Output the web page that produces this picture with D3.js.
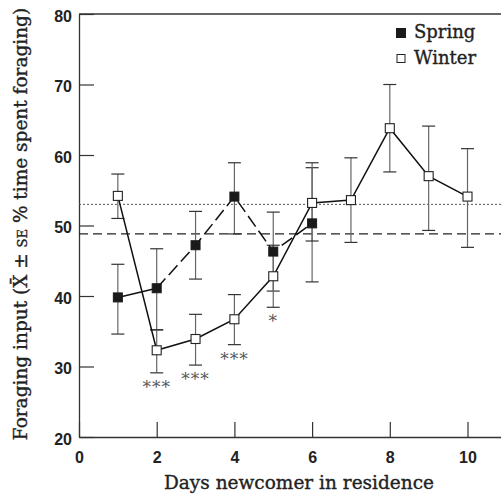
<!DOCTYPE html>
<html>
<head>
<meta charset="utf-8">
<script src="https://cdn.jsdelivr.net/npm/d3@7"></script>
<style>
  body { margin: 0; background: #fff; }
  svg { display: block; font-family: 'DejaVu Serif', serif; }
  .tick text { font-size: 16px; font-weight: bold; fill: #222; }
  .title { fill: #222; stroke: #222; stroke-width: 0.35px; }
</style>
</head>
<body>
<svg id="chart"></svg>
<script>
// ---- data ----
var springDays = [1, 2, 3, 4, 5, 6];
var springMean = [39.8, 41.1, 47.2, 54.1, 46.3, 50.3];
var springLow  = [34.6, 35.2, 42.4, 48.8, 40.7, 42.0];
var springHigh = [44.5, 46.7, 52.0, 58.9, 51.9, 58.2];

var winterDays = [1, 2, 3, 4, 5, 6, 7, 8, 9, 10];
var winterMean = [54.2, 32.3, 33.9, 36.7, 42.8, 53.2, 53.6, 63.8, 57.0, 54.1];
var winterLow  = [51.0, 29.1, 30.2, 33.1, 38.4, 47.8, 47.6, 57.6, 49.3, 46.9];
var winterHigh = [57.3, 35.2, 37.4, 40.2, 47.2, 58.9, 59.6, 70.0, 64.1, 60.9];

// significance marks under the winter points
var sigDays  = [2, 3, 4, 5];
var sigMarks = ["***", "***", "***", "*"];

// reference levels (dotted = winter baseline, dashed = spring baseline)
var winterRef = 53.0;
var springRef = 48.8;

var xTicks = [0, 2, 4, 6, 8, 10];
var yTicks = [20, 30, 40, 50, 60, 70, 80];

/* ~~~~~~~~~ SVG setup ~~~~~~~~~ */
var svgWidth = 501, svgHeight = 499;
var svg = d3.select("#chart").attr("width", svgWidth).attr("height", svgHeight);

var x = d3.scaleLinear().domain([0, 11]).range([79, 79 + 11 * 38.85]);
var y = d3.scaleLinear().domain([20, 80]).range([437, 14]);

var axisColor = "#333";

// frame: top line (the right side falls off the picture)
svg.append("line")
   .attr("x1", x(0)).attr("x2", x(11))
   .attr("y1", y(80)).attr("y2", y(80))
   .attr("stroke", axisColor).attr("stroke-width", 1.3);

// x axis, ticks pointing inward
svg.append("g")
   .attr("transform", "translate(0," + y(20) + ")")
   .call(d3.axisBottom(x).tickValues(xTicks).tickSizeInner(-15).tickSizeOuter(0).tickPadding(10))
   .call(g => g.select(".domain").attr("stroke", axisColor).attr("stroke-width", 1.3))
   .call(g => g.selectAll(".tick line").attr("stroke", axisColor).attr("stroke-width", 1.2))
   .call(g => g.selectAll(".tick text").attr("y", 26).attr("dy", 0));

// y axis, ticks pointing inward
svg.append("g")
   .attr("transform", "translate(" + x(0) + ",0)")
   .call(d3.axisLeft(y).tickValues(yTicks).tickSizeInner(-15).tickSizeOuter(0).tickPadding(7))
   .call(g => g.select(".domain").attr("stroke", axisColor).attr("stroke-width", 1.3))
   .call(g => g.selectAll(".tick line").attr("stroke", axisColor).attr("stroke-width", 1.2))
   .call(g => g.selectAll(".tick text").attr("dy", "0.45em"));

/* ~~~~~~~~~ reference lines ~~~~~~~~~ */
svg.append("line")
   .attr("x1", x(0)).attr("x2", x(11))
   .attr("y1", y(winterRef)).attr("y2", y(winterRef))
   .attr("stroke", "#555").attr("stroke-width", 1)
   .attr("stroke-dasharray", "2,2");

svg.append("line")
   .attr("x1", x(0)).attr("x2", x(11))
   .attr("y1", y(springRef)).attr("y2", y(springRef))
   .attr("stroke", "#222").attr("stroke-width", 1.2)
   .attr("stroke-dasharray", "9,5");

/* ~~~~~~~~~ error bars ~~~~~~~~~ */
var capHalf = 6.5;
function errorBars(days, low, high) {
   var g = svg.append("g");
   days.forEach(function(d, i) {
      g.append("line")
         .attr("x1", x(d)).attr("x2", x(d))
         .attr("y1", y(low[i])).attr("y2", y(high[i]))
         .attr("stroke", "#666").attr("stroke-width", 1.2);
      [low[i], high[i]].forEach(function(v) {
         g.append("line")
            .attr("x1", x(d) - capHalf).attr("x2", x(d) + capHalf)
            .attr("y1", y(v)).attr("y2", y(v))
            .attr("stroke", "#333").attr("stroke-width", 1.2);
      });
   });
}
errorBars(springDays, springLow, springHigh);
errorBars(winterDays, winterLow, winterHigh);

/* ~~~~~~~~~ series lines ~~~~~~~~~ */
var line = d3.line().x(function(d){ return x(d[0]); }).y(function(d){ return y(d[1]); });

var springPts = springDays.map(function(d, i){ return [d, springMean[i]]; });
var winterPts = winterDays.map(function(d, i){ return [d, winterMean[i]]; });

// spring: first segment solid, the rest long dashes
svg.append("path").datum(springPts.slice(0, 2))
   .attr("d", line).attr("fill", "none")
   .attr("stroke", "#111").attr("stroke-width", 1.5);
svg.append("path").datum(springPts.slice(1))
   .attr("d", line).attr("fill", "none")
   .attr("stroke", "#111").attr("stroke-width", 1.5)
   .attr("stroke-dasharray", "13,5");

svg.append("path").datum(winterPts)
   .attr("d", line).attr("fill", "none")
   .attr("stroke", "#111").attr("stroke-width", 1.5);

/* ~~~~~~~~~ markers ~~~~~~~~~ */
var sq = 9;
svg.append("g").selectAll("rect")
   .data(springPts).enter().append("rect")
   .attr("x", function(d){ return x(d[0]) - sq/2; })
   .attr("y", function(d){ return y(d[1]) - sq/2; })
   .attr("width", sq).attr("height", sq)
   .attr("fill", "#1a1a1a").attr("stroke", "#1a1a1a").attr("stroke-width", 1);

svg.append("g").selectAll("rect")
   .data(winterPts).enter().append("rect")
   .attr("x", function(d){ return x(d[0]) - sq/2; })
   .attr("y", function(d){ return y(d[1]) - sq/2; })
   .attr("width", sq).attr("height", sq)
   .attr("fill", "#fff").attr("stroke", "#222").attr("stroke-width", 1.1);

/* ~~~~~~~~~ significance asterisks ~~~~~~~~~ */
svg.append("g").selectAll("text")
   .data(sigDays).enter().append("text")
   .attr("x", function(d){ return x(d); })
   .attr("y", function(d){ return y(winterLow[winterDays.indexOf(d)]) + 20; })
   .attr("text-anchor", "middle")
   .attr("font-size", 17)
   .attr("letter-spacing", 1)
   .attr("fill", "#555")
   .text(function(d, i){ return sigMarks[i]; });

/* ~~~~~~~~~ legend ~~~~~~~~~ */
var legend = svg.append("g").attr("transform", "translate(396,0)");
legend.append("rect").attr("x", 0).attr("y", 28).attr("width", 10).attr("height", 10)
   .attr("fill", "#1a1a1a");
legend.append("text").attr("class", "title").attr("x", 18).attr("y", 38).attr("font-size", 18).text("Spring");
legend.append("rect").attr("x", 1).attr("y", 54.5).attr("width", 8).attr("height", 8)
   .attr("fill", "#fff").attr("stroke", "#222").attr("stroke-width", 1);
legend.append("text").attr("class", "title").attr("x", 18).attr("y", 64).attr("font-size", 18).text("Winter");

/* ~~~~~~~~~ axis titles ~~~~~~~~~ */
svg.append("text")
   .attr("class", "title")
   .attr("x", 299).attr("y", 489)
   .attr("text-anchor", "middle")
   .attr("font-size", 18.5)
   .text("Days newcomer in residence");

var ylab = svg.append("text")
   .attr("class", "title")
   .attr("transform", "translate(27,224) rotate(-90)")
   .attr("text-anchor", "middle")
   .attr("font-size", 18.5);
ylab.append("tspan").text("Foraging input (X\u0304 \u00b1 ");
ylab.append("tspan").attr("font-size", 13).text("SE");
ylab.append("tspan").text(" % time spent foraging)");
</script>
</body>
</html>
